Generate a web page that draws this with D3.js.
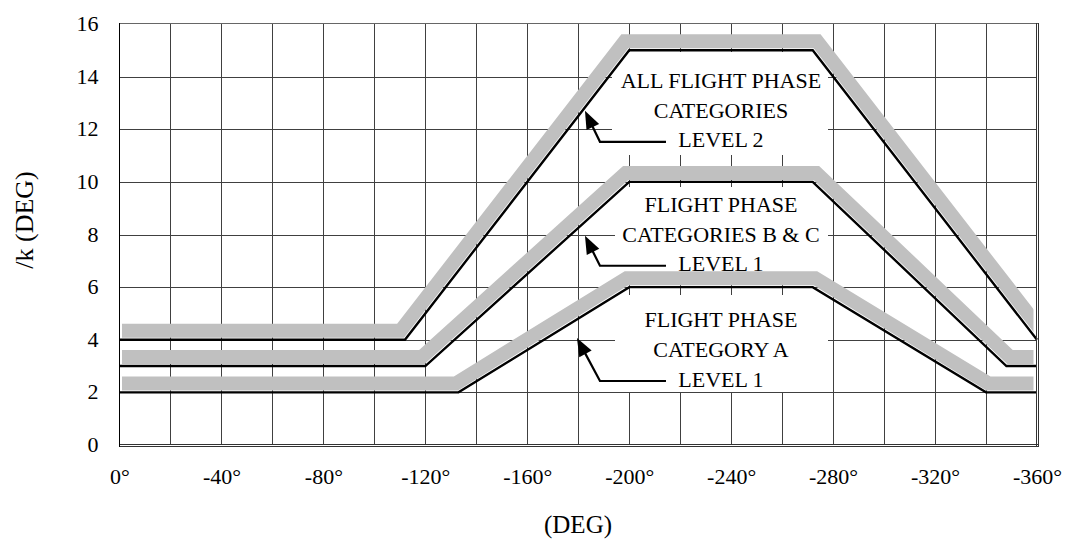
<!DOCTYPE html>
<html>
<head>
<meta charset="utf-8">
<script src="https://cdn.jsdelivr.net/npm/d3@7"></script>
<style>
  html, body { margin: 0; padding: 0; background: #fff; }
  svg { display: block; }
  text { font-family: "Liberation Serif", "Times New Roman", serif; fill: #000; }
</style>
</head>
<body>
<svg id="chart" width="1069" height="542"></svg>
<script>
// Roll-angle limit envelopes (angle in degrees vs. limit in degrees)
const level2Deg = [0, -112, -200, -272, -360];
const level2Val = [4, 4, 15, 15, 4];

const catBCDeg = [0, -120, -200, -272, -348, -360];
const catBCVal = [3, 3, 10, 10, 3, 3];

const catADeg = [0, -133, -200, -272, -340, -360];
const catAVal = [2, 2, 6, 6, 2, 2];

const xTickValues = [0, -40, -80, -120, -160, -200, -240, -280, -320, -360];
const xTickLabels = ["0°", "-40°", "-80°", "-120°", "-160°", "-200°", "-240°", "-280°", "-320°", "-360°"];
const yTickValues = [0, 2, 4, 6, 8, 10, 12, 14, 16];
const yTickLabels = ["0", "2", "4", "6", "8", "10", "12", "14", "16"];

const level2Text = ["ALL FLIGHT PHASE", "CATEGORIES", "LEVEL 2"];
const catBCText = ["FLIGHT PHASE", "CATEGORIES B & C", "LEVEL 1"];
const catAText = ["FLIGHT PHASE", "CATEGORY A", "LEVEL 1"];

const svg = d3.select("#chart");
const x = d3.scaleLinear().domain([0, -360]).range([119.5, 1037]);
const y = d3.scaleLinear().domain([0, 16]).range([445, 24]);
const x0 = x(0), x1 = x(-360), yTop = y(16), yBot = y(0);

// grid
const grid = svg.append("g").attr("stroke", "#404040").attr("stroke-width", 1).attr("shape-rendering", "crispEdges");
grid.selectAll("line.v").data(d3.range(-20, -360, -20)).join("line")
  .attr("x1", d => Math.round(x(d)) + 0.5).attr("x2", d => Math.round(x(d)) + 0.5)
  .attr("y1", yTop).attr("y2", yBot);
grid.selectAll("line.h").data(d3.range(2, 16, 2)).join("line")
  .attr("x1", x0).attr("x2", x1)
  .attr("y1", d => Math.round(y(d)) + 0.5).attr("y2", d => Math.round(y(d)) + 0.5);

// label backgrounds hide the grid behind the annotation text
const labelX = x(-236);
const labels = [
  { lines: level2Text, base: 13.57, box: [612, 52, 216, 103], arrow: { tip: [-136, -31] } },
  { lines: catBCText, base: 8.86, box: [615, 187, 213, 88], arrow: { tip: [-136, -30] } },
  { lines: catAText, base: 4.48, box: [615, 295, 213, 97], arrow: { tip: [-144, -43] } }
];
svg.append("g").selectAll("rect").data(labels).join("rect")
  .attr("x", d => d.box[0]).attr("y", d => d.box[1])
  .attr("width", d => d.box[2]).attr("height", d => d.box[3])
  .attr("fill", "#fff");

// offset polyline in screen space: shifted to the upper side of the limit line
function offsetPath(pts, dist) {
  const segs = [];
  for (let i = 0; i < pts.length - 1; i++) {
    const [ax, ay] = pts[i], [bx, by] = pts[i + 1];
    const len = Math.hypot(bx - ax, by - ay);
    const ux = (bx - ax) / len, uy = (by - ay) / len;
    const nx = uy, ny = -ux;
    segs.push({ a: [ax + nx * dist, ay + ny * dist], b: [bx + nx * dist, by + ny * dist], u: [ux, uy] });
  }
  const out = [];
  const f = segs[0];
  out.push([f.a[0] - f.u[0] * 30, f.a[1] - f.u[1] * 30]);
  for (let i = 0; i < segs.length - 1; i++) {
    const s = segs[i], t = segs[i + 1];
    const den = s.u[0] * t.u[1] - s.u[1] * t.u[0];
    if (Math.abs(den) < 1e-9) { out.push(s.b); continue; }
    const dx = t.a[0] - s.a[0], dy = t.a[1] - s.a[1];
    const k = (dx * t.u[1] - dy * t.u[0]) / den;
    out.push([s.a[0] + s.u[0] * k, s.a[1] + s.u[1] * k]);
  }
  const l = segs[segs.length - 1];
  out.push([l.b[0] + l.u[0] * 30, l.b[1] + l.u[1] * 30]);
  return out;
}

const series = [
  { deg: level2Deg, val: level2Val },
  { deg: catBCDeg, val: catBCVal },
  { deg: catADeg, val: catAVal }
];

svg.append("defs").append("clipPath").attr("id", "bandClip")
  .append("rect").attr("x", 122).attr("y", 0).attr("width", 1033.5 - 122).attr("height", 542);

const line = d3.line();
const bands = svg.append("g").attr("clip-path", "url(#bandClip)");
series.forEach(s => {
  const pts = s.deg.map((d, i) => [x(d), y(s.val[i])]);
  bands.append("path")
    .attr("d", line(offsetPath(pts, 9)))
    .attr("fill", "none").attr("stroke", "#c0c0c0").attr("stroke-width", 14)
    .attr("stroke-linejoin", "miter").attr("stroke-miterlimit", 10);
});
series.forEach(s => {
  const pts = s.deg.map((d, i) => [x(d), y(s.val[i])]);
  svg.append("path")
    .attr("d", line(pts))
    .attr("fill", "none").attr("stroke", "#000").attr("stroke-width", 2.4)
    .attr("stroke-linejoin", "miter");
});

// frame
const frame = svg.append("g").attr("fill", "none").attr("shape-rendering", "crispEdges");
frame.append("line").attr("x1", x0).attr("x2", x1 + 1).attr("y1", yTop - 0.5).attr("y2", yTop - 0.5).attr("stroke", "#666").attr("stroke-width", 1.5);
frame.append("line").attr("x1", x0).attr("x2", x0).attr("y1", yTop - 1).attr("y2", yBot + 2).attr("stroke", "#000").attr("stroke-width", 1.5);
frame.append("line").attr("x1", x0).attr("x2", x1 + 2).attr("y1", yBot - 0.5).attr("y2", yBot - 0.5).attr("stroke", "#333").attr("stroke-width", 1);
frame.append("line").attr("x1", x0).attr("x2", x1 + 2).attr("y1", yBot + 1.5).attr("y2", yBot + 1.5).attr("stroke", "#333").attr("stroke-width", 1);
frame.append("line").attr("x1", x1 - 0.5).attr("x2", x1 - 0.5).attr("y1", yTop - 1).attr("y2", yBot + 2).attr("stroke", "#333").attr("stroke-width", 1);
frame.append("line").attr("x1", x1 + 1.5).attr("x2", x1 + 1.5).attr("y1", yTop - 1).attr("y2", yBot + 2).attr("stroke", "#333").attr("stroke-width", 1);

// axis tick labels
const xAxis = d3.axisBottom(x).tickValues(xTickValues).tickSize(0)
  .tickFormat((d, i) => xTickLabels[i]);
const gx = svg.append("g").attr("transform", `translate(0,${yBot})`).call(xAxis);
gx.select(".domain").remove();
gx.selectAll("text").attr("dy", null).attr("y", 39)
  .style("font-family", '"Liberation Serif", serif').style("font-size", "22px");

const yAxis = d3.axisLeft(y).tickValues(yTickValues).tickSize(0)
  .tickFormat((d, i) => yTickLabels[i]);
const gy = svg.append("g").attr("transform", `translate(${x0},0)`).call(yAxis);
gy.select(".domain").remove();
gy.selectAll("text").attr("x", -21).attr("dy", "0.3em")
  .style("font-family", '"Liberation Serif", serif').style("font-size", "22px");

// axis titles
svg.append("text").attr("x", 578).attr("y", 533).attr("text-anchor", "middle")
  .style("font-size", "25px").text("(DEG)");
svg.append("text").attr("transform", "translate(33,220) rotate(-90)").attr("text-anchor", "middle")
  .style("font-size", "26px").text("/k (DEG)");

// annotation text and arrows
labels.forEach(lb => {
  const b0 = y(lb.base);
  const g = svg.append("g");
  g.selectAll("text").data(lb.lines).join("text")
    .attr("x", labelX).attr("y", (d, i) => b0 + i * 29.7)
    .attr("text-anchor", "middle").style("font-size", "22px").text(d => d);
  const yl = b0 + 2 * 29.7 - 5.5;
  const sx = labelX - 121, sy = yl;
  const tx = labelX + lb.arrow.tip[0], ty = yl + lb.arrow.tip[1];
  const len = Math.hypot(tx - sx, ty - sy);
  const ux = (tx - sx) / len, uy = (ty - sy) / len;
  const headLen = 18, headW = 7;
  const bx = tx - ux * headLen, by = ty - uy * headLen;
  g.append("path")
    .attr("d", `M${labelX - 55},${yl}H${sx}L${bx + ux * 2},${by + uy * 2}`)
    .attr("fill", "none").attr("stroke", "#000").attr("stroke-width", 2.2);
  g.append("path")
    .attr("d", `M${tx},${ty}L${bx - uy * headW},${by + ux * headW}L${bx + uy * headW},${by - ux * headW}Z`)
    .attr("fill", "#000");
});
</script>
</body>
</html>
